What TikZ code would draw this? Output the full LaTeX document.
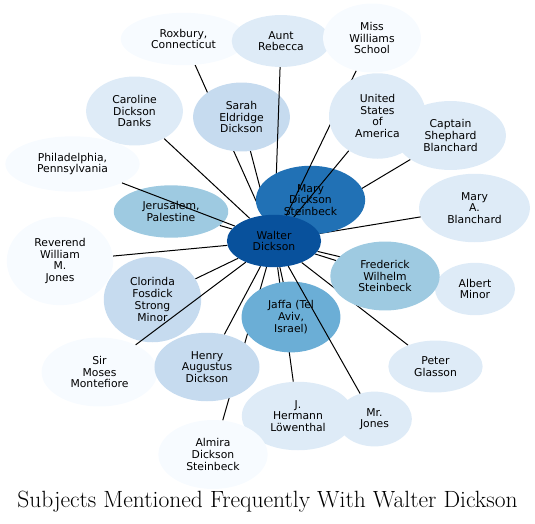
\documentclass[tikz,border=0pt]{standalone}
\usepackage{fontspec}
\setsansfont{DejaVu Sans}
\usetikzlibrary{shapes.geometric}
\definecolor{blues1}{HTML}{F7FBFF}
\definecolor{blues2}{HTML}{DEEBF7}
\definecolor{blues3}{HTML}{C6DBEF}
\definecolor{blues4}{HTML}{9ECAE1}
\definecolor{blues5}{HTML}{6BAED6}
\definecolor{blues7}{HTML}{2171B5}
\definecolor{blues8}{HTML}{08519C}
\pgfdeclarelayer{linkslow}
\pgfdeclarelayer{nodeslow}
\pgfdeclarelayer{linksmid}
\pgfdeclarelayer{nodesmid}
\pgfdeclarelayer{linkshigh}
\pgfsetlayers{linkslow,nodeslow,linksmid,nodesmid,linkshigh,main}
\begin{document}
\begin{tikzpicture}[x=1pt,y=-1pt,
    subject/.style={ellipse,align=center,inner xsep=12pt,inner ysep=8.5pt,
      font=\sffamily\fontsize{10.8}{11.7}\selectfont},
    link/.style={line width=1pt}]
  \useasboundingbox (0,0) rectangle (535,523);
  \begin{pgfonlayer}{nodeslow}
    \node[subject,fill=blues1] (roxbury) at (183.5,39) {Roxbury,\\Connecticut};
    \node[subject,fill=blues2] (rebecca) at (281,41) {Aunt\\Rebecca};
    \node[subject,fill=blues1] (williams) at (372,38) {Miss\\Williams\\School};
    \node[subject,fill=blues2] (caroline) at (134.5,111) {Caroline\\Dickson\\Danks};
    \node[subject,fill=blues3] (sarah) at (241.5,117) {Sarah\\Eldridge\\Dickson};
    \node[subject,fill=blues2] (captain) at (450.5,135.5) {Captain\\Shephard\\Blanchard};
    \node[subject,fill=blues1] (philadelphia) at (72.5,164) {Philadelphia,\\Pennsylvania};
    \node[subject,fill=blues4] (jerusalem) at (171,211.5) {Jerusalem,\\Palestine};
    \node[subject,fill=blues2] (marya) at (474.5,208) {Mary\\A.\\Blanchard};
    \node[subject,fill=blues1] (reverend) at (60,261) {Reverend\\William\\M.\\Jones};
    \node[subject,fill=blues3] (clorinda) at (152.5,299.5) {Clorinda\\Fosdick\\Strong\\Minor};
    \node[subject,fill=blues2] (albert) at (475,289) {Albert\\Minor};
    \node[subject,fill=blues4] (frederick) at (385,276) {Frederick\\Wilhelm\\Steinbeck};
    \node[subject,fill=blues5] (jaffa) at (291,317) {Jaffa (Tel\\Aviv,\\Israel)};
    \node[subject,fill=blues2] (peter) at (435.5,366.5) {Peter\\Glasson};
    \node[subject,fill=blues1] (moses) at (99.5,372) {Sir\\Moses\\Montefiore};
    \node[subject,fill=blues3] (henry) at (207,367) {Henry\\Augustus\\Dickson};
    \node[subject,fill=blues2] (hermann) at (298,416) {J.\\Hermann\\Löwenthal};
    \node[subject,fill=blues2] (jones) at (374.5,419) {Mr.\\Jones};
    \node[subject,fill=blues1] (almira) at (213,454.5) {Almira\\Dickson\\Steinbeck};
  \end{pgfonlayer}
  \begin{pgfonlayer}{nodesmid}
    \node[subject,fill=blues7] (mary) at (310.5,200) {Mary\\Dickson\\Steinbeck};
  \end{pgfonlayer}
  \node[subject,fill=blues2] (usa) at (377.5,116) {United\\States\\of\\America};
  \node[subject,fill=blues8] (walter) at (274,241) {Walter\\Dickson};
  \node[anchor=base,font=\fontsize{23.5}{27}\selectfont] (title) at (267.5,507.5)
    {Subjects Mentioned Frequently With Walter Dickson};
  % links drawn under the nodes they cross
  \begin{pgfonlayer}{linkslow}
    \foreach \other in {roxbury,caroline,sarah,captain,jerusalem,marya,reverend,
        clorinda,frederick,albert,jaffa,peter,henry,hermann,almira}
      \draw[link] (walter) -- (\other);
  \end{pgfonlayer}
  \begin{pgfonlayer}{linksmid}
    \foreach \other in {rebecca,philadelphia,moses,jones}
      \draw[link] (walter) -- (\other);
  \end{pgfonlayer}
  \begin{pgfonlayer}{linkshigh}
    \foreach \other in {williams,usa}
      \draw[link] (walter) -- (\other);
  \end{pgfonlayer}
\end{tikzpicture}
\end{document}
